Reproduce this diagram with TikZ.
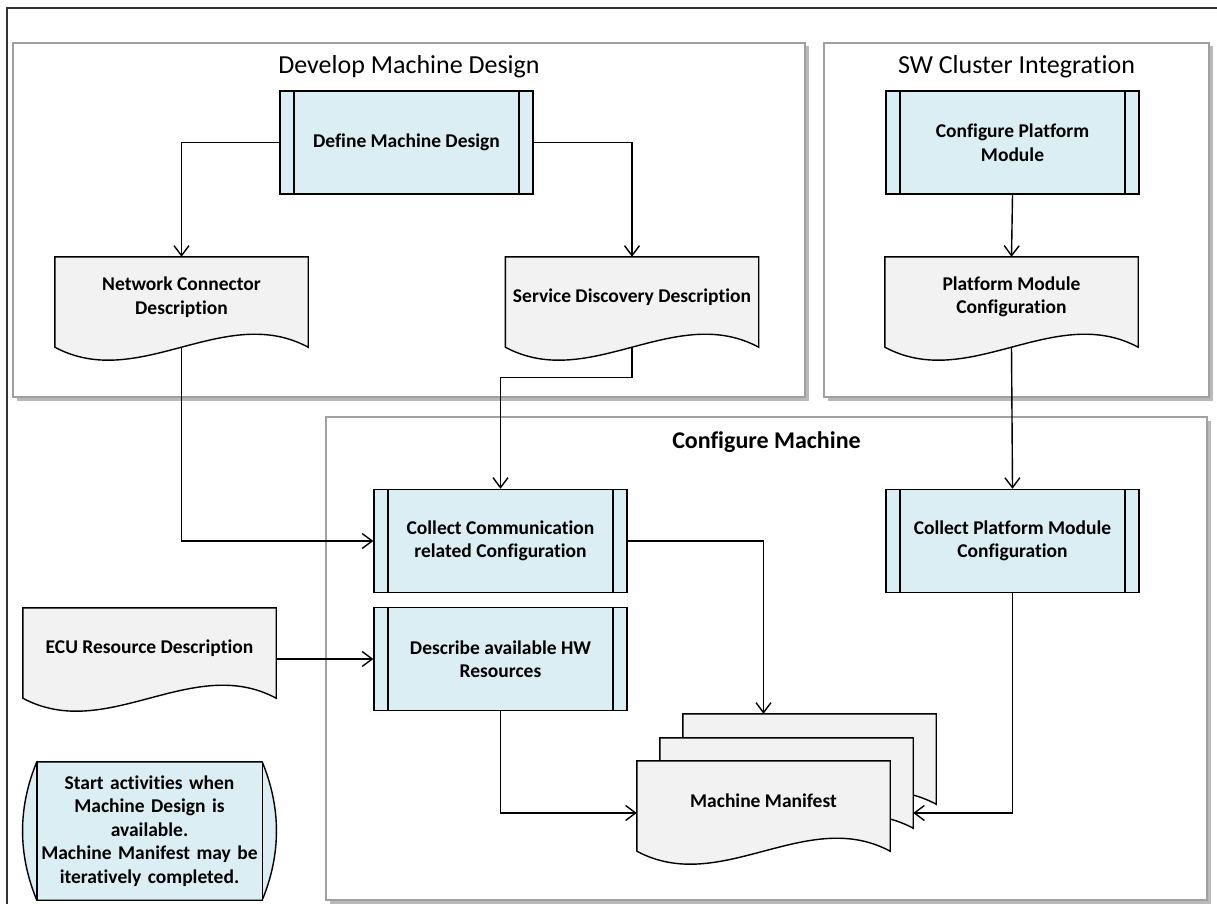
\documentclass[tikz,border=0pt]{standalone}
\usepackage{fontspec}
\setmainfont{Carlito}[Ligatures={NoCommon,NoContextual}]
\usepackage{tikz}
\usetikzlibrary{arrows.meta, calc}
\usetikzlibrary{shadows, backgrounds}

\definecolor{procblue}{RGB}{218,238,243}
\definecolor{docgray}{RGB}{242,242,242}
\definecolor{grpgray}{RGB}{160,160,160}

\newcommand{\blockfont}{\fontsize{19.5}{23.5}\selectfont\bfseries}
\newcommand{\grpfont}{\fontsize{26}{30}\selectfont}

\tikzset{
    proc/.style={draw, line width=1.4pt, fill=procblue, minimum width=253pt,
        minimum height=103pt, align=center, font=\blockfont,
        path picture={
            \draw[line width=1.4pt] ([xshift=14pt]path picture bounding box.north west)
                -- ([xshift=14pt]path picture bounding box.south west);
            \draw[line width=1.4pt] ([xshift=-14pt]path picture bounding box.north east)
                -- ([xshift=-14pt]path picture bounding box.south east);
        }},
    docu/.style={minimum width=253pt, minimum height=80pt, inner sep=0pt,
        align=center, font=\blockfont},
    docline/.style={draw, fill=docgray, line width=1.4pt},
    grp/.style={draw=grpgray, fill=white, line width=1.1pt,
        drop shadow={shadow xshift=3.5pt, shadow yshift=-3.5pt, opacity=0.55}},
    grptitle/.style={font=\grpfont},
    flow/.style={-{Straight Barb[length=10pt,width=15pt]}, line width=1.4pt},
}

\begin{document}
\begin{tikzpicture}[x=1pt, y=-1pt]
    \useasboundingbox (0,0) rectangle (1217,904);

    % Outer frame
    \draw[line width=1.3pt, black!80] (1217,8) -- (7,8) -- (7,904);

    % Group boxes
    \begin{scope}[on background layer]
        \node[grp, minimum width=792pt, minimum height=354pt] (devgrp) at (409,220) {};
        \node[grp, minimum width=385pt, minimum height=354pt] (swgrp) at (1016.5,220) {};
        \node[grp, minimum width=881pt, minimum height=483pt] (cfggrp) at (766.5,658.5) {};
    \end{scope}
    \node[grptitle] (devtitle) at (409,67) {Develop Machine Design};
    \node[grptitle] (swtitle) at (1016.5,67) {SW Cluster Integration};
    \node[grptitle, font=\fontsize{24}{28}\selectfont\bfseries] (cfgtitle) at (766.5,442) {Configure Machine};

    % Activities
    \node[proc] (defmd) at (406.5,142.5) {Define Machine Design};
    \node[proc] (cpm) at (1012.5,142.5) {Configure Platform\\Module};
    \node[proc] (collcomm) at (500.5,541) {Collect Communication\\related Configuration};
    \node[proc] (collpmc) at (1012.5,541) {Collect Platform Module\\Configuration};
    \node[proc] (hwres) at (500.5,659) {Describe available HW\\Resources};

    % Work products
    \node[docu] (netdesc) at (181.5,297) {Network Connector\\Description};
    \node[docu] (sddesc) at (632,297) {Service Discovery Description};
    \node[docu] (pmconf) at (1011.5,297) {Platform Module\\Configuration};
    \node[docu] (ecudesc) at (149.5,648) {ECU Resource Description};
    \node[docu] (manifestB) at (809.5,754) {};
    \node[docu] (manifestM) at (786.5,778) {};
    \node[docu] (manifest) at (763.5,801) {Machine Manifest};

    % Note
    \node[font=\blockfont, align=center, text width=225pt, minimum height=138pt,
        inner sep=0pt] (note) at (149.5,831)
        {Start activities when\\Machine Design is\\available.\\Machine Manifest may be\\iteratively completed.};

    % Document outlines and note outline behind the texts
    \begin{scope}[on background layer]
        \foreach \d in {netdesc,sddesc,pmconf,ecudesc,manifestB,manifestM,manifest}
        {
            \draw[docline] (\d.north west) -- (\d.north east) -- ([yshift=-10pt]\d.south east)
                .. controls +(-84,-45) and +(84,45) .. ([yshift=-10pt]\d.south west) -- cycle;
        }
        \draw[line width=1.4pt, fill=procblue] (note.north west) -- (note.north east)
            .. controls +(19,46) and +(19,-46) .. (note.south east) -- (note.south west)
            .. controls +(-19,-46) and +(-19,46) .. (note.north west) -- cycle;
        \draw[line width=1.4pt] (note.north west) -- (note.south west);
        \draw[line width=1.4pt] (note.north east) -- (note.south east);
    \end{scope}

    % Flows
    \draw[flow] (defmd.west) -| (netdesc.north);
    \draw[flow] (defmd.east) -| (sddesc.north);
    \draw[flow] (cpm.south) -- (pmconf.north);
    \draw[flow] ([yshift=-10pt]pmconf.south) -- (collpmc.north);
    \draw[flow] ([yshift=-10pt]netdesc.south) |- (collcomm.west);
    \draw[flow] ([yshift=-10pt]sddesc.south) -- ++(0,30) -| (collcomm.north);
    \draw[flow] (ecudesc.east |- hwres.west) -- (hwres.west);
    \draw[flow] (collcomm.east) -| (manifest.north |- manifestB.north);
    \coordinate (mmin) at ([yshift=-12pt]manifest.west);
    \draw[flow] (hwres.south) |- (mmin);
    \draw[flow] (collpmc.south) |- (manifestM.east |- mmin);
\end{tikzpicture}
\end{document}
